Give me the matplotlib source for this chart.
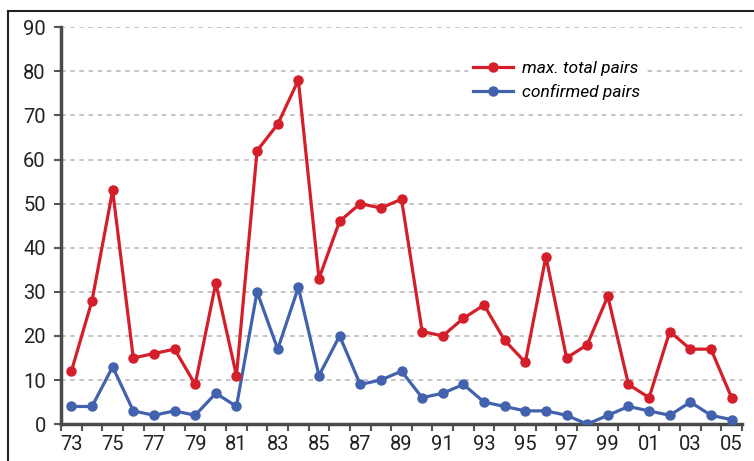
import matplotlib
matplotlib.use("Agg")
import numpy as np
import matplotlib.pyplot as plt
from matplotlib.lines import Line2D
from matplotlib.ticker import FixedLocator

# years 1973 - 2005
years = ["73", "74", "75", "76", "77", "78", "79", "80", "81", "82", "83",
         "84", "85", "86", "87", "88", "89", "90", "91", "92", "93", "94",
         "95", "96", "97", "98", "99", "00", "01", "02", "03", "04", "05"]
max_total = [12, 28, 53, 15, 16, 17, 9, 32, 11, 62, 68,
             78, 33, 46, 50, 49, 51, 21, 20, 24, 27, 19,
             14, 38, 15, 18, 29, 9, 6, 21, 17, 17, 6]
confirmed = [4, 4, 13, 3, 2, 3, 2, 7, 4, 30, 17,
             31, 11, 20, 9, 10, 12, 6, 7, 9, 5, 4,
             3, 3, 2, 0, 2, 4, 3, 2, 5, 2, 1]

plt.rcParams['font.family'] = ['Roboto', 'DejaVu Sans']

red = '#d41f2a'
blue = '#4262ad'

fig = plt.figure(figsize=(7.54, 4.61), dpi=100)
ax = fig.add_axes([0.081, 0.080, 0.903, 0.861])

x = np.arange(len(years))
ax.plot(x, max_total, color=red, lw=2.3, marker='o', ms=6.5, label='max. total pairs', zorder=4)
ax.plot(x, confirmed, color=blue, lw=2.3, marker='o', ms=6.5, label='confirmed pairs', zorder=3)

ax.set_xlim(-0.5, len(years) - 0.5)
ax.set_ylim(0, 90)
ax.set_yticks(range(0, 91, 10))

# labels on every other year, tick marks on category boundaries
ax.xaxis.set_major_locator(FixedLocator(x[::2]))
ax.set_xticklabels(years[::2])
ax.xaxis.set_minor_locator(FixedLocator(np.arange(-0.5, len(years), 1.0)))
ax.tick_params(axis='x', which='major', length=0, pad=8, labelsize=14.5, labelcolor='#222222')
ax.tick_params(axis='x', which='minor', length=5, width=1.5, color='#555555', direction='out')
ax.tick_params(axis='y', length=5, width=1.5, color='#555555', pad=6, labelsize=14.5, labelcolor='#222222')

ax.yaxis.grid(True, color='#b4b4b4', lw=1.1, ls=(0, (3, 3)))
ax.set_axisbelow(True)
for s in ['top', 'right']:
    ax.spines[s].set_visible(False)
for s in ['left', 'bottom']:
    ax.spines[s].set_color('#4a4a4a')
    ax.spines[s].set_linewidth(2.5)

leg = ax.legend(loc='upper left', bbox_to_anchor=(0.585, 0.95), frameon=True,
                handlelength=2.3, handletextpad=0.5, labelspacing=0.45, borderpad=0.3,
                prop={'style': 'italic', 'size': 12.5})
leg.get_frame().set_edgecolor('none')
leg.get_frame().set_facecolor('white')
leg.get_frame().set_alpha(1)

# outer frame of the figure (left and top edges visible)
fig.add_artist(Line2D([8 / 754, 8 / 754], [0, 1 - 11 / 461], color='#222222', lw=1.5,
                      transform=fig.transFigure))
fig.add_artist(Line2D([8 / 754, 1], [1 - 11 / 461, 1 - 11 / 461], color='#222222', lw=1.5,
                      transform=fig.transFigure))

fig.savefig('out.png', dpi=100)
